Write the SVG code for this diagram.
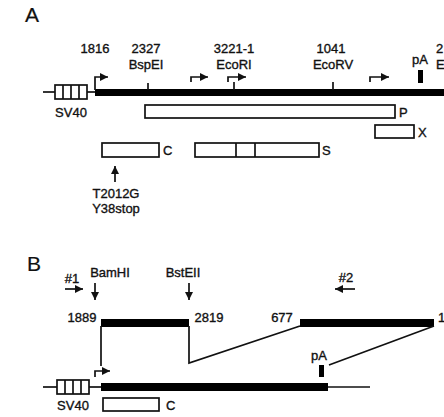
<svg xmlns="http://www.w3.org/2000/svg" width="444" height="417" viewBox="0 0 444 417">
<style>
text{font-family:"Liberation Sans",Arial,sans-serif;font-size:13px;fill:#111;stroke:#111;stroke-width:0.35}
.lab{text-anchor:middle}
.big{font-size:21px;stroke-width:0.2}
.box{fill:#fff;stroke:#111;stroke-width:1.7}
.ln{fill:none;stroke:#111;stroke-width:1.7}
.bar{fill:#000}
</style>
<defs>
<marker id="ah" markerUnits="userSpaceOnUse" markerWidth="9" markerHeight="8" refX="8" refY="4" orient="auto">
<path d="M0,0 L8,4 L0,8 z" fill="#111"/>
</marker>
</defs>

<g id="panelA">
<text x="25" y="22" class="big">A</text>
<g id="labelsA">
<text x="95" y="53" class="lab">1816</text>
<text x="146" y="53" class="lab">2327</text>
<text x="146" y="69" class="lab">BspEI</text>
<text x="234" y="53" class="lab">3221-1</text>
<text x="234" y="69" class="lab">EcoRI</text>
<text x="331" y="53" class="lab">1041</text>
<text x="333" y="69" class="lab">EcoRV</text>
<text x="420" y="64" class="lab">pA</text>
<text x="436" y="53">2</text>
<text x="436" y="69">E</text>
</g>
<g id="sv40A">
<line x1="43" y1="92" x2="55" y2="92" class="ln"/>
<line x1="87" y1="92" x2="95" y2="92" class="ln"/>
<rect x="55" y="85" width="32" height="14" class="box"/>
<line x1="63" y1="85" x2="63" y2="99" class="ln"/>
<line x1="71" y1="85" x2="71" y2="99" class="ln"/>
<line x1="79" y1="85" x2="79" y2="99" class="ln"/>
<text x="71" y="117" class="lab">SV40</text>
</g>
<rect id="genomeA" x="95" y="89" width="349" height="7" class="bar"/>
<g id="ticksA">
<line x1="148" y1="83" x2="148" y2="90" class="ln"/>
<line x1="234" y1="82" x2="234" y2="90" class="ln"/>
<line x1="333" y1="82" x2="333" y2="90" class="ln"/>
<rect x="418" y="70" width="5" height="13" class="bar"/>
</g>
<g id="promotersA">
<path d="M95,90 V77 H108" class="ln" marker-end="url(#ah)"/>
<path d="M191,82 V77 H208" class="ln" marker-end="url(#ah)"/>
<path d="M228,82 V77 H246" class="ln" marker-end="url(#ah)"/>
<path d="M370,82 V77 H389" class="ln" marker-end="url(#ah)"/>
</g>
<g id="orfP"><rect x="145" y="105" width="250" height="13" class="box"/><text x="399" y="117">P</text></g>
<g id="orfX"><rect x="375" y="125" width="39" height="13" class="box"/><text x="418" y="137">X</text></g>
<g id="orfC"><rect x="102" y="143" width="57" height="14" class="box"/><text x="163" y="155">C</text></g>
<g id="orfS"><rect x="195" y="143" width="124" height="14" class="box"/>
<line x1="236" y1="143" x2="236" y2="157" class="ln"/>
<line x1="255" y1="143" x2="255" y2="157" class="ln"/>
<text x="322" y="155">S</text></g>
<g id="mutation">
<line x1="115" y1="182" x2="115" y2="166" class="ln" marker-end="url(#ah)"/>
<text x="116" y="198" class="lab">T2012G</text>
<text x="116" y="213" class="lab">Y38stop</text>
</g>
</g>

<g id="panelB">
<text x="27" y="271" class="big">B</text>
<g id="labelsB">
<text x="72" y="283" class="lab">#1</text>
<text x="110" y="277" class="lab">BamHI</text>
<text x="183" y="277" class="lab">BstEII</text>
<text x="346" y="282" class="lab">#2</text>
<text x="82" y="322" class="lab">1889</text>
<text x="209" y="322" class="lab">2819</text>
<text x="282" y="322" class="lab">677</text>
<text x="438" y="322">1</text>
<text x="319" y="360" class="lab">pA</text>
</g>
<g id="arrowsB">
<line x1="65" y1="289" x2="83" y2="289" class="ln" marker-end="url(#ah)"/>
<line x1="355" y1="289" x2="335" y2="289" class="ln" marker-end="url(#ah)"/>
<line x1="95" y1="283" x2="95" y2="300" class="ln" marker-end="url(#ah)"/>
<line x1="189" y1="283" x2="189" y2="300" class="ln" marker-end="url(#ah)"/>
</g>
<g id="exon1"><rect x="101" y="319" width="88" height="8" class="bar"/></g>
<g id="exon2"><rect x="300" y="319" width="134" height="8" class="bar"/></g>
<g id="splice">
<path d="M101,326 V366" class="ln"/>
<path d="M189,326 V363 L300,326" class="ln"/>
<path d="M434,326 L329,365" class="ln"/>
</g>
<g id="sv40B">
<line x1="43" y1="387" x2="57" y2="387" class="ln"/>
<line x1="89" y1="387" x2="101" y2="387" class="ln"/>
<rect x="57" y="380" width="32" height="14" class="box"/>
<line x1="65" y1="380" x2="65" y2="394" class="ln"/>
<line x1="73" y1="380" x2="73" y2="394" class="ln"/>
<line x1="81" y1="380" x2="81" y2="394" class="ln"/>
<text x="73" y="410" class="lab">SV40</text>
</g>
<g id="genomeB">
<path d="M95,377 V371 H110" class="ln" marker-end="url(#ah)"/>
<rect x="101" y="383" width="227" height="8" class="bar"/>
<line x1="328" y1="387" x2="370" y2="387" class="ln"/>
<rect x="319" y="365" width="5" height="12" class="bar"/>
</g>
<g id="orfCB"><rect x="103" y="398" width="56" height="13" class="box"/><text x="166" y="410">C</text></g>
</g>
</svg>
